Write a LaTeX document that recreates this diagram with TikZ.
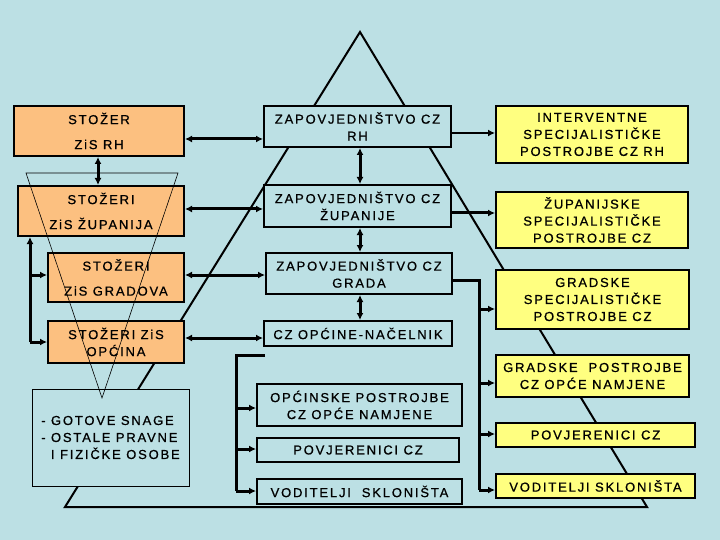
\documentclass[tikz,border=0pt]{standalone}
\usepackage{fontspec}
\setmainfont{Liberation Sans}[LetterSpace=14,FakeBold=0.8]
\usetikzlibrary{arrows.meta}
\definecolor{bg}{RGB}{188,224,228}
\definecolor{orangebox}{RGB}{252,192,128}
\definecolor{yellowbox}{RGB}{255,255,128}
\begin{document}
\begin{tikzpicture}[x=1pt,y=-1pt,
  every node/.style={font=\fontsize{13}{17}\selectfont, text=black, inner sep=0pt, align=center},
  obox/.style={draw=black, line width=2pt, fill=orangebox},
  mbox/.style={draw=black, line width=2pt, fill=bg},
  ybox/.style={draw=black, line width=2pt, fill=yellowbox},
  gbox/.style={draw=black, line width=0.8pt, fill=bg},
  tri/.style={line width=2pt, line join=miter},
  thintri/.style={line width=0.6pt},
  conn/.style={line width=3pt},
  sarr/.style={line width=3pt, -{Latex[length=7pt,width=7pt]}},
  darr/.style={line width=3pt, {Latex[length=7pt,width=7pt]}-{Latex[length=7pt,width=7pt]}}
]
\fill[bg] (0,0) rectangle (720,540);
\useasboundingbox (0,0) rectangle (720,540);

% big pyramid
\draw[tri] (360,32) -- (647,507) -- (65,507) -- cycle;

% left column
\node[obox, minimum width=170, minimum height=50] (B1) at (99,131) {STOŽER\\[8pt]ZiS RH};
\node[obox, minimum width=166, minimum height=50] (B2) at (101,211) {STOŽERI\\[8pt]ZiS ŽUPANIJA};
\node[obox, minimum width=136, minimum height=49] (B3) at (116,277.5) {STOŽERI\\[8pt]ZiS GRADOVA};
\node[obox, minimum width=136, minimum height=42] (B4) at (116,342) {STOŽERI ZiS\\OPĆINA};
\node[gbox, minimum width=157, minimum height=97, align=left] (G) at (110.5,437.5) {- GOTOVE SNAGE\\- OSTALE PRAVNE\\\phantom{- }I FIZIČKE OSOBE};

% middle column
\node[mbox, minimum width=187, minimum height=41] (M1) at (357.5,126.5) {ZAPOVJEDNIŠTVO CZ\\RH};
\node[mbox, minimum width=187, minimum height=42] (M2) at (357.5,206) {ZAPOVJEDNIŠTVO CZ\\ŽUPANIJE};
\node[mbox, minimum width=186, minimum height=41] (M3) at (359,273.5) {ZAPOVJEDNIŠTVO CZ\\GRADA};
\node[mbox, minimum width=188, minimum height=25] (M4) at (358,333.5) {CZ OPĆINE-NAČELNIK};
\node[mbox, minimum width=205, minimum height=42] (M5) at (359.5,405) {OPĆINSKE POSTROJBE\\CZ OPĆE NAMJENE};
\node[mbox, minimum width=202, minimum height=24] (M6) at (358,450) {POVJERENICI CZ};
\node[mbox, minimum width=205, minimum height=25] (M7) at (359.5,491.5) {VODITELJI\ \ SKLONIŠTA};

% right column
\node[ybox, minimum width=192, minimum height=57] (R1) at (592,134.5) {INTERVENTNE\\SPECIJALISTIČKE\\POSTROJBE CZ RH};
\node[ybox, minimum width=192, minimum height=56] (R2) at (592,220) {ŽUPANIJSKE\\SPECIJALISTIČKE\\POSTROJBE CZ};
\node[ybox, minimum width=193, minimum height=59] (R3) at (592.5,299.5) {GRADSKE\\SPECIJALISTIČKE\\POSTROJBE CZ};
\node[ybox, minimum width=193, minimum height=42] (R4) at (592.5,376) {GRADSKE\ \ POSTROJBE\\CZ OPĆE NAMJENE};
\node[ybox, minimum width=199, minimum height=24] (R5) at (595.5,435) {POVJERENICI CZ};
\node[ybox, minimum width=199, minimum height=24] (R6) at (595.5,486) {VODITELJI SKLONIŠTA};

% left-middle double arrows
\draw[darr] (B1.east |- 0,139) -- (M1.west |- 0,139);
\draw[darr] (B2.east |- 0,209) -- (M2.west |- 0,209);
\draw[darr] (B3.east |- 0,275) -- (M3.west |- 0,275);
\draw[darr] (B4.east |- 0,338) -- (M4.west |- 0,338);

% vertical double arrows
\draw[darr] (B1.south -| 98,0) -- (B2.north -| 98,0);
\draw[darr] (M1.south -| 360,0) -- (M2.north -| 360,0);
\draw[darr] (M2.south -| 360,0) -- (M3.north -| 360,0);
\draw[darr] (M3.south -| 360,0) -- (M4.north -| 360,0);

% left bus
\coordinate (lb) at (30,342);
\draw[sarr] (lb) -- (lb |- B2.south);
\draw[sarr] (30,275) -- (B3.west |- 0,275);
\draw[sarr] (lb) -- (B4.west |- lb);

% middle bracket
\coordinate (mb) at (236,355);
\draw[conn] (265,355) -- (mb) -- (236,491);
\draw[sarr] (236,408) -- (M5.west |- 0,408);
\draw[sarr] (236,449) -- (M6.west |- 0,449);
\draw[sarr] (236,491) -- (M7.west |- 0,491);

% middle to right
\draw[sarr, line width=2.2pt] (M1.east |- 0,133) -- (R1.west |- 0,133);
\draw[sarr] (M2.east |- 0,213) -- (R2.west |- 0,213);
\coordinate (rb) at (479,280);
\draw[conn] (M3.east |- rb) -- (rb) -- (479,490);
\draw[sarr] (479,309) -- (R3.west |- 0,309);
\draw[sarr] (479,383) -- (R4.west |- 0,383);
\draw[sarr] (479,434) -- (R5.west |- 0,434);
\draw[sarr] (479,490) -- (R6.west |- 0,490);

% inverted thin triangle
\draw[thintri] (26,173) -- (178,173) -- (102,398) -- cycle;
\end{tikzpicture}
\end{document}
